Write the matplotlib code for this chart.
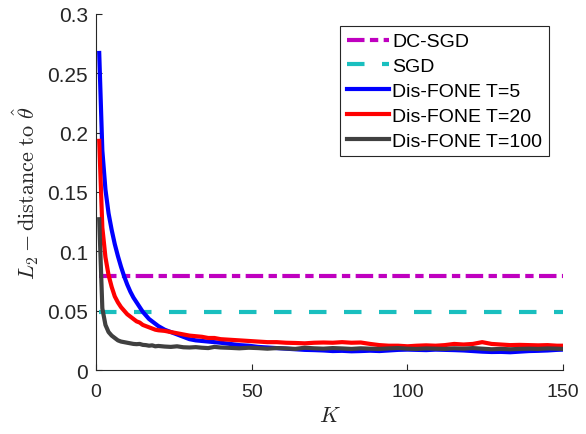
import matplotlib
matplotlib.use('Agg')
import matplotlib.pyplot as plt

#%% Data
K = list(range(1, 21)) + list(range(22, 41, 2)) + list(range(43, 150, 3)) + [150]
K_flat = [1, 150]

dc_sgd = [0.0795, 0.0795]
sgd = [0.0485, 0.0485]

fone_t5 = [0.267, 0.185, 0.152, 0.132, 0.118, 0.106, 0.096, 0.087, 0.079, 0.072,
           0.066, 0.061, 0.057, 0.053, 0.049, 0.046, 0.043, 0.041, 0.039, 0.037,
           0.034, 0.032, 0.030, 0.028, 0.026, 0.025, 0.0245, 0.024, 0.0235, 0.023,
           0.022, 0.021, 0.0205, 0.0195, 0.019, 0.0185, 0.018, 0.0175, 0.017, 0.0168,
           0.0165, 0.016, 0.0162, 0.0158, 0.016, 0.0163, 0.016, 0.0165, 0.017, 0.0172,
           0.017, 0.0168, 0.0172, 0.017, 0.0168, 0.0165, 0.016, 0.0155, 0.0152, 0.0153,
           0.015, 0.0155, 0.016, 0.0162, 0.0165, 0.017, 0.0172]

fone_t20 = [0.193, 0.120, 0.095, 0.080, 0.070, 0.062, 0.057, 0.053, 0.050, 0.047,
            0.045, 0.043, 0.041, 0.040, 0.038, 0.037, 0.036, 0.035, 0.034, 0.0335,
            0.033, 0.032, 0.031, 0.030, 0.029, 0.0285, 0.028, 0.027, 0.027, 0.026,
            0.0255, 0.025, 0.0245, 0.024, 0.0235, 0.0235, 0.023, 0.0228, 0.0225, 0.023,
            0.0232, 0.023, 0.0235, 0.023, 0.0232, 0.022, 0.021, 0.0205, 0.0205, 0.020,
            0.0205, 0.0208, 0.0205, 0.021, 0.022, 0.0215, 0.022, 0.0235, 0.022, 0.0215,
            0.021, 0.0212, 0.021, 0.0208, 0.021, 0.0205, 0.0205]

fone_t100 = [0.127, 0.052, 0.038, 0.032, 0.029, 0.027, 0.025, 0.024, 0.0235, 0.023,
             0.0225, 0.022, 0.0218, 0.022, 0.0212, 0.021, 0.0205, 0.0208, 0.020, 0.0203,
             0.0198, 0.0195, 0.020, 0.0192, 0.019, 0.0193, 0.0188, 0.0185, 0.0195, 0.019,
             0.0187, 0.0183, 0.0188, 0.0185, 0.018, 0.0185, 0.0182, 0.0178, 0.0188, 0.0183,
             0.018, 0.0185, 0.0182, 0.0178, 0.0183, 0.018, 0.0178, 0.0182, 0.0185, 0.018,
             0.0178, 0.0182, 0.018, 0.0178, 0.0183, 0.018, 0.0185, 0.018, 0.0175, 0.0178,
             0.0175, 0.0178, 0.018, 0.0178, 0.0182, 0.018, 0.0178]

labels = ['DC-SGD', 'SGD', 'Dis-FONE T=5', 'Dis-FONE T=20', 'Dis-FONE T=100']

#%% Plot
plt.rcParams['font.family'] = 'Liberation Sans'
plt.rcParams['mathtext.fontset'] = 'cm'

fig = plt.figure(figsize=(5.86, 4.35), dpi=100)
ax = fig.add_axes([0.164, 0.147, 0.797, 0.819])

lw = 3.0
ax.plot(K_flat, dc_sgd, color=(0.75, 0, 0.75), lw=lw, dashes=(4.2, 1.3, 2.0, 1.3), label=labels[0])
ax.plot(K_flat, sgd, color=(0.1, 0.75, 0.75), lw=lw, dashes=(4.2, 4.2), label=labels[1])
ax.plot(K, fone_t5, color='blue', lw=lw, label=labels[2])
ax.plot(K, fone_t20, color='red', lw=lw, label=labels[3])
ax.plot(K, fone_t100, color=(0.25, 0.25, 0.25), lw=lw, label=labels[4])

ax.set_xlim(0, 150)
ax.set_ylim(0, 0.3)
ax.set_xticks([0, 50, 100, 150])
ax.set_yticks([0, 0.05, 0.1, 0.15, 0.2, 0.25, 0.3])
ax.set_yticklabels(['0', '0.05', '0.1', '0.15', '0.2', '0.25', '0.3'])

for s in ['top', 'right']:
    ax.spines[s].set_visible(False)
for s in ['left', 'bottom']:
    ax.spines[s].set_color((0.15, 0.15, 0.15))
    ax.spines[s].set_linewidth(0.8)
ax.tick_params(direction='in', length=4, width=0.8,
               colors=(0.15, 0.15, 0.15))
ax.tick_params(axis='x', pad=9, labelsize=14)
ax.tick_params(axis='y', pad=6, labelsize=15)

ax.set_xlabel(r'$K$', fontsize=16, color=(0.15, 0.15, 0.15), labelpad=4)
ax.set_ylabel(r'$L_2-\mathrm{distance\ to\ }\hat{\theta}$', fontsize=16,
              color=(0.15, 0.15, 0.15), labelpad=4)

leg = ax.legend(loc='upper right', bbox_to_anchor=(0.97, 0.966), fontsize=14,
                handlelength=2.2, handletextpad=0.15, labelspacing=0.37,
                borderpad=0.35, borderaxespad=0.0, fancybox=False, framealpha=1)
leg.get_frame().set_edgecolor((0.15, 0.15, 0.15))
leg.get_frame().set_linewidth(0.8)

plt.savefig('out.png', dpi=100)
